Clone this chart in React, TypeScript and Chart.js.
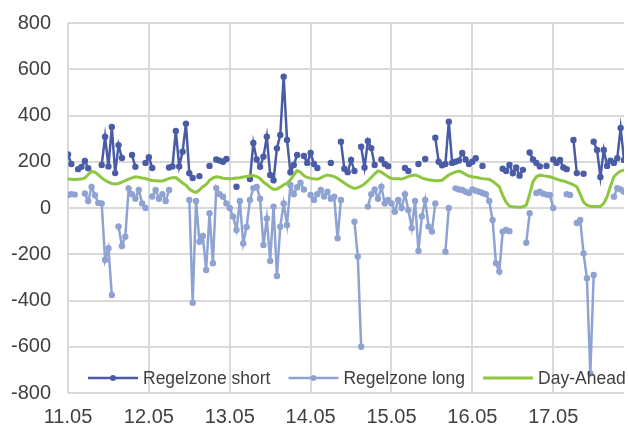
import React, { useEffect, useRef } from 'react';
import { Chart, registerables } from 'chart.js';

Chart.register(...registerables);

// x axis: hours since 11.05 00:00, one tick per day
const xTickLabels = ['11.05', '12.05', '13.05', '14.05', '15.05', '16.05', '17.05'];
const hoursPerDay = 24;
const xMaxHour = 165;

const yMin = -800;
const yMax = 800;
const yStep = 200;

const seriesNames = ['Regelzone short', 'Regelzone long', 'Day-Ahead'];
const seriesColors = ['#4A5CA6', '#8FA3D3', '#8DC63F'];

// hourly values, null = no value in that hour
const regelzoneShort: (number | null)[] = [
  // 11.05
  232, 190, null, 168, 178, 203, 172, null, null, null, 186, 308, 180, 350, 151, 272, 216, null, null, 229, 178, null, null, 195,
  // 12.05
  220, 173, null, null, null, null, 175, 180, 333, 180, 243, 365, 150, 130, null, 138, null, null, 182, null, 210, 205, 200, 212,
  // 13.05
  null, null, 92, null, null, null, 125, 281, 210, 178, 222, 308, 143, 120, 258, 316, 568, 294, 155, 186, 229, null, 225, 195,
  // 14.05
  238, 190, 173, null, null, null, 195, null, null, 287, 170, 155, 208, 160, null, 265, 175, 290, 259, 186, null, 210, 190, 181,
  // 15.05
  null, null, null, null, 173, 160, null, null, 190, null, 212, null, null, 304, 200, 185, 190, 373, 195, 200, 205, 238, 210, 190,
  // 16.05
  200, 215, null, 182, null, null, null, null, null, 170, 160, 186, 150, 175, 140, 165, null, 240, 210, 195, 180, null, 182, null,
  // 17.05
  210, 195, 208, 175, 168, null, 294, 151, null, 148, null, null, 287, 251, 134, 251, 182, 205, 195, 215, 346, 208,
];

const regelzoneLong: (number | null)[] = [
  // 11.05
  56, 60, 58, null, null, 63, 30, 91, 55, 22, 20, -225, -174, -376, null, -80, -164, -124, 85, 60, 40, 78, 20, 0,
  // 12.05
  null, 50, 78, 40, 60, 30, 78, null, null, null, null, null, 35, -410, 30, -146, -121, -268, -23, -239, 86, 60, 49, 20,
  // 13.05
  0, -37, -95, 30, -153, -82, 35, 86, 91, 40, -160, -45, -229, 6, -294, -81, 20, -73, 100, 60, 90, 109, 80, null,
  // 14.05
  56, 35, 60, 78, 50, 70, 40, 49, -131, 35, null, null, null, -59, -210, -600, null, 6, 60, 80, 40, 92, 20, 35,
  // 15.05
  20, -16, 35, 0, 60, -9, -87, 30, -186, -37, 35, -80, -102, 20, null, null, -189, 0, null, 85, 80, 78, 70, 65,
  // 16.05
  80, 75, 70, 65, 60, 30, -52, -239, -275, -102, -95, -100, null, null, null, null, -150, -23, null, 65, 70, 62, 58, 56,
  // 17.05
  0, null, null, null, 60, 56, null, -65, -52, -196, -304, -715, -290, null, null, null, null, null, 49, 86, 80, 70,
];

const dayAhead: number[] = [
  // 11.05
  125, 124, 123, 124, 125, 130, 145, 158, 155, 143, 130, 120, 112, 106, 104, 106, 112, 118, 125, 130, 135, 133, 130, 128,
  // 12.05
  122, 119, 118, 117, 117, 122, 128, 131, 132, 120, 108, 99, 82, 72, 68, 78, 92, 102, 120, 130, 135, 133, 129, 128,
  // 13.05
  127, 128, 130, 131, 134, 136, 138, 140, 136, 128, 112, 102, 90, 80, 82, 90, 100, 107, 122, 142, 162, 155, 140, 132,
  // 14.05
  128, 126, 124, 130, 138, 143, 140, 136, 128, 118, 108, 98, 90, 85, 88, 95, 104, 118, 132, 148, 160, 155, 145, 135,
  // 15.05
  128, 127, 126, 125, 130, 136, 141, 143, 138, 130, 125, 122, 120, 118, 118, 120, 132, 143, 150, 156, 160, 154, 145, 138,
  // 16.05
  135, 133, 130, 127, 125, 124, 116, 104, 92, 55, 25, 8, 5, 4, 3, 5, 12, 60, 114, 135, 142, 140, 137, 135,
  // 17.05
  130, 125, 120, 117, 112, 106, 100, 92, 60, 25, 12, 8, 7, 6, 6, 20, 49, 95, 135, 150, 160, 165,
];

const FONT = "'Liberation Sans', Arial, sans-serif";
const TEXT_COLOR = '#404040';
const GRID_COLOR = '#d9d9d9';

const toPoints = (arr: (number | null)[]) => arr.map((v, i) => ({ x: i, y: v }));

const insideLegend = {
  id: 'insideLegend',
  afterDraw(chart: any) {
    const { ctx, chartArea } = chart;
    const y = chartArea.bottom - 15;
    let x = chartArea.left + 20;
    const lineLen = 50;
    ctx.save();
    ctx.font = `17.5px ${FONT}`;
    ctx.textBaseline = 'middle';
    ctx.textAlign = 'left';
    seriesNames.forEach((name, i) => {
      const color = seriesColors[i];
      ctx.strokeStyle = color;
      ctx.lineWidth = i === 2 ? 3 : 2.5;
      ctx.beginPath();
      ctx.moveTo(x, y);
      ctx.lineTo(x + lineLen, y);
      ctx.stroke();
      if (i < 2) {
        ctx.fillStyle = color;
        ctx.beginPath();
        ctx.arc(x + lineLen / 2, y, 3, 0, Math.PI * 2);
        ctx.fill();
      }
      ctx.fillStyle = TEXT_COLOR;
      ctx.fillText(name, x + lineLen + 5, y + 1);
      x += lineLen + 5 + ctx.measureText(name).width + 18;
    });
    ctx.restore();
  },
};

export default function App() {
  const ref = useRef<HTMLCanvasElement>(null);

  useEffect(() => {
    if (!ref.current) return;
    const chart = new Chart(ref.current, {
      type: 'line',
      data: {
        datasets: [
          {
            label: seriesNames[0],
            data: toPoints(regelzoneShort),
            borderColor: seriesColors[0],
            backgroundColor: seriesColors[0],
            borderWidth: 2.5,
            pointRadius: 3.2,
            pointBorderWidth: 0,
            pointBackgroundColor: seriesColors[0],
            spanGaps: false,
            order: 2,
          },
          {
            label: seriesNames[1],
            data: toPoints(regelzoneLong),
            borderColor: seriesColors[1],
            backgroundColor: seriesColors[1],
            borderWidth: 2.5,
            pointRadius: 3.2,
            pointBorderWidth: 0,
            pointBackgroundColor: seriesColors[1],
            spanGaps: false,
            order: 1,
          },
          {
            label: seriesNames[2],
            data: toPoints(dayAhead),
            borderColor: seriesColors[2],
            backgroundColor: seriesColors[2],
            borderWidth: 3,
            pointRadius: 0,
            order: 0,
          },
        ],
      },
      options: {
        responsive: false,
        animation: false,
        events: [],
        layout: { padding: { top: 15, right: 0, left: 0, bottom: 0 } },
        plugins: {
          legend: { display: false },
          tooltip: { enabled: false },
        },
        scales: {
          x: {
            type: 'linear',
            min: 0,
            max: xMaxHour,
            afterBuildTicks: (scale: any) => {
              scale.ticks = xTickLabels.map((_, i) => ({ value: i * hoursPerDay }));
            },
            afterFit: (scale: any) => {
              scale.height = 34;
              scale.paddingLeft = 0;
              scale.paddingRight = 0;
            },
            ticks: {
              autoSkip: false,
              maxRotation: 0,
              padding: 12,
              color: TEXT_COLOR,
              font: { family: FONT, size: 20 },
              callback: (v: any) => xTickLabels[Math.round(Number(v) / hoursPerDay)] ?? '',
            },
            grid: { color: GRID_COLOR, lineWidth: 2, drawTicks: false },
            border: { display: false },
          },
          y: {
            min: yMin,
            max: yMax,
            afterFit: (scale: any) => {
              scale.width = 60;
              scale.paddingTop = 0;
              scale.paddingBottom = 0;
            },
            ticks: {
              stepSize: yStep,
              padding: 17,
              color: TEXT_COLOR,
              font: { family: FONT, size: 20 },
            },
            grid: { color: GRID_COLOR, lineWidth: 2, drawTicks: false },
            border: { display: false },
          },
        },
      },
      plugins: [insideLegend],
    } as any);
    return () => chart.destroy();
  }, []);

  return (
    <canvas
      ref={ref}
      width={620}
      height={419}
      style={{ display: 'block', position: 'absolute', left: 8, top: 8 }}
    />
  );
}
